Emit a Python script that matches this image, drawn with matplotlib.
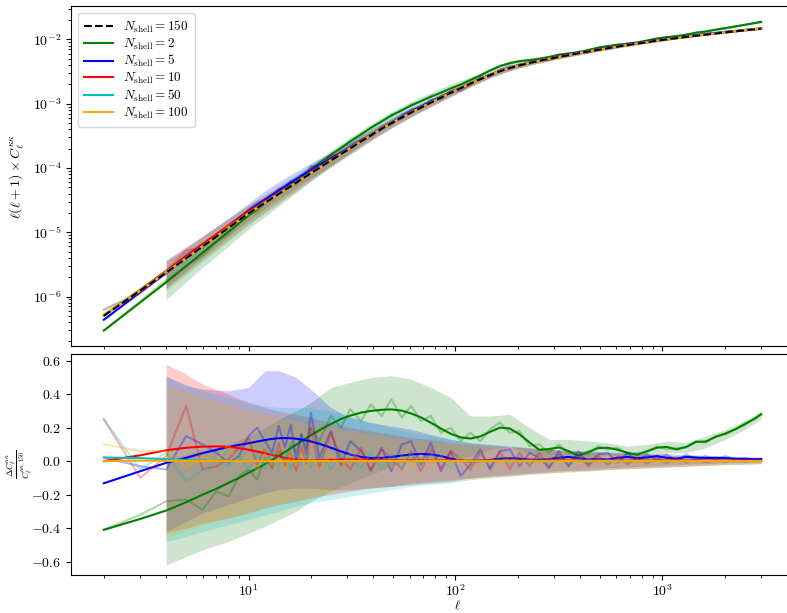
import numpy as np
import matplotlib
matplotlib.use("Agg")
import matplotlib.pyplot as plt

plt.rcParams["font.family"] = "serif"
plt.rcParams["font.serif"] = ["cmr10", "DejaVu Serif"]
plt.rcParams["mathtext.fontset"] = "cm"
plt.rcParams["axes.formatter.use_mathtext"] = True

# multipoles
ell = np.array([2, 3, 4, 5, 6, 7, 8, 9, 10, 11, 12, 13, 14, 15, 16, 17, 18, 19, 20,
                22, 25, 28, 31, 35, 39, 44, 49, 55, 61, 68, 76, 85, 95, 106, 118, 132,
                147, 164, 183, 204, 228, 254, 283, 316, 352, 393, 438, 489, 545, 608,
                678, 756, 843, 940, 1048, 1169, 1303, 1453, 1620, 1807, 2015, 2247,
                2506, 2795, 3000])

# log10 of l(l+1) C_l for N_shell = 150 (reference)
ref_log10 = np.array([-6.300, -5.907, -5.628, -5.404, -5.221, -5.066, -4.932, -4.814, -4.708,
                      -4.622, -4.543, -4.471, -4.404, -4.342, -4.284, -4.229, -4.177, -4.128,
                      -4.082, -3.997, -3.884, -3.784, -3.694, -3.587, -3.493, -3.391, -3.305,
                      -3.217, -3.140, -3.062, -2.985, -2.907, -2.830, -2.760, -2.690, -2.620,
                      -2.556, -2.497, -2.447, -2.405, -2.368, -2.335, -2.304, -2.274, -2.245,
                      -2.217, -2.190, -2.163, -2.138, -2.113, -2.089, -2.066, -2.044, -2.022,
                      -2.001, -1.981, -1.962, -1.944, -1.926, -1.909, -1.892, -1.876, -1.860,
                      -1.845, -1.836])

labels = ["2", "5", "10", "50", "100"]
colors = ["green", "blue", "red", "c", "orange"]

# smoothed relative difference to N_shell = 150
smooth_2 = [-0.410, -0.345, -0.295, -0.245, -0.200, -0.165, -0.130, -0.100, -0.070, -0.043,
            -0.018, 0.008, 0.032, 0.055, 0.077, 0.098, 0.118, 0.137, 0.155, 0.185, 0.222,
            0.252, 0.272, 0.290, 0.300, 0.307, 0.309, 0.302, 0.285, 0.262, 0.230, 0.195,
            0.163, 0.142, 0.135, 0.148, 0.175, 0.200, 0.195, 0.160, 0.112, 0.068, 0.072,
            0.082, 0.060, 0.032, 0.055, 0.078, 0.080, 0.068, 0.050, 0.038, 0.060, 0.080,
            0.085, 0.070, 0.085, 0.115, 0.117, 0.145, 0.165, 0.190, 0.220, 0.255, 0.280]
smooth_5 = [-0.132, -0.060, -0.010, 0.020, 0.048, 0.068, 0.085, 0.097, 0.107, 0.117, 0.126,
            0.133, 0.137, 0.138, 0.137, 0.134, 0.129, 0.124, 0.118, 0.104, 0.080, 0.058,
            0.040, 0.025, 0.019, 0.020, 0.025, 0.033, 0.040, 0.043, 0.040, 0.030, 0.015,
            0.003, -0.002, 0.000, 0.008, 0.015, 0.018, 0.015, 0.010, 0.008, 0.012, 0.020,
            0.025, 0.018, 0.010, 0.012, 0.010, 0.020, 0.025, 0.018, 0.022, 0.030, 0.020,
            0.015, 0.025, 0.022, 0.018, 0.020, 0.018, 0.015, 0.013, 0.012, 0.012]
smooth_10 = [0.000, 0.035, 0.065, 0.080, 0.087, 0.088, 0.086, 0.078, 0.068, 0.058, 0.047,
             0.037, 0.028, 0.020, 0.014, 0.010, 0.007, 0.005, 0.004, 0.005, 0.008, 0.010,
             0.010, 0.009, 0.007, 0.005, 0.004, 0.004, 0.005, 0.004, 0.003, 0.004, 0.005,
             0.004, 0.003, 0.004, 0.005, 0.004, 0.003, 0.004, 0.004, 0.003, 0.004, 0.005,
             0.004, 0.003, 0.003, 0.004, 0.004, 0.003, 0.003, 0.004, 0.003, 0.003, 0.004,
             0.003, 0.003, 0.004, 0.003, 0.003, 0.003, 0.003, 0.003, 0.003, 0.003]
smooth_50 = [0.022, 0.018, 0.012, 0.007, 0.004, 0.002, 0.001, 0.001, 0.000, 0.001, 0.001,
             0.000, 0.001, 0.001, 0.000, 0.001, 0.001, 0.000, 0.001, 0.001, 0.000, 0.001,
             0.001, 0.000, 0.001, 0.001, 0.000, 0.001, 0.001, 0.000, 0.001, 0.001, 0.000,
             0.001, 0.001, 0.000, 0.001, 0.001, 0.000, 0.001, 0.001, 0.000, 0.001, 0.001,
             0.000, 0.001, 0.001, 0.000, 0.001, 0.001, 0.000, 0.001, 0.001, 0.000, 0.001,
             0.001, 0.000, 0.001, 0.001, 0.000, 0.001, 0.001, 0.000, 0.001, 0.001]
smooth_100 = [0.000, 0.003, 0.002, 0.001, 0.000, 0.001, 0.000, -0.001, 0.000, 0.001, 0.000,
              0.000, 0.001, 0.000, -0.001, 0.000, 0.001, 0.000, 0.000, 0.001, 0.000, -0.001,
              0.000, 0.001, 0.000, 0.000, 0.001, 0.000, -0.001, 0.000, 0.001, 0.000, 0.000,
              0.001, 0.000, -0.001, 0.000, 0.001, 0.000, 0.000, 0.001, 0.000, -0.001, 0.000,
              0.001, 0.000, 0.000, 0.001, 0.000, -0.001, 0.000, 0.001, 0.000, 0.000, 0.001,
              0.000, -0.001, 0.000, 0.001, 0.000, 0.000, 0.001, 0.000, 0.000, 0.000]

# raw (per-ell) relative difference
raw_2 = [-0.41, -0.32, -0.24, -0.23, -0.29, -0.18, -0.21, -0.09, -0.05, -0.11, 0.02, -0.04,
         0.06, 0.00, 0.10, 0.05, 0.16, 0.08, 0.20, 0.12, 0.27, 0.20, 0.31, 0.24, 0.34, 0.27,
         0.37, 0.26, 0.33, 0.24, 0.27, 0.17, 0.20, 0.12, 0.17, 0.12, 0.19, 0.23, 0.17, 0.18,
         0.09, 0.10, 0.05, 0.10, 0.05, 0.05, 0.04, 0.09, 0.07, 0.08, 0.04, 0.05, 0.05, 0.09,
         0.07, 0.08, 0.08, 0.12, 0.11, 0.15, 0.16, 0.19, 0.23, 0.25, 0.28]
raw_5 = [0.02, -0.03, -0.05, 0.15, 0.10, 0.05, -0.01, 0.03, 0.15, 0.20, 0.12, 0.05, 0.21,
         0.08, 0.22, 0.00, 0.16, 0.04, 0.29, 0.02, 0.18, -0.03, 0.12, 0.06, -0.05, 0.08,
         -0.06, 0.10, 0.12, -0.02, 0.11, -0.06, 0.06, -0.09, -0.02, 0.07, -0.05, 0.06, 0.07,
         -0.03, 0.05, 0.02, -0.04, 0.06, -0.03, 0.06, -0.02, 0.04, 0.05, -0.01, 0.05, 0.00,
         0.04, 0.01, 0.04, 0.00, 0.04, 0.01, 0.03, 0.01, 0.03, 0.01, 0.02, 0.01, 0.015]
raw_10 = [0.25, -0.10, 0.03, 0.33, -0.05, -0.03, 0.01, 0.08, 0.14, -0.02, 0.07, -0.04, 0.11,
          -0.03, 0.05, -0.06, 0.09, -0.02, 0.20, -0.04, 0.17, 0.02, -0.05, 0.08, -0.06, 0.07,
          0.02, -0.05, 0.06, -0.06, 0.07, -0.04, 0.06, 0.01, -0.05, 0.05, -0.04, 0.06, -0.05,
          0.05, -0.03, 0.05, -0.04, 0.04, -0.03, 0.04, -0.03, 0.03, -0.02, 0.03, -0.02, 0.02,
          -0.015, 0.02, -0.01, 0.015, -0.01, 0.012, -0.008, 0.01, -0.005, 0.008, -0.004,
          0.005, 0.003]
raw_50 = [0.25, -0.05, 0.05, -0.12, -0.05, 0.00, -0.03, 0.04, -0.06, 0.05, -0.04, 0.06,
          -0.03, 0.04, -0.05, 0.06, -0.02, 0.05, -0.04, 0.06, -0.05, 0.04, 0.02, -0.04, 0.05,
          -0.05, 0.04, -0.04, 0.05, -0.03, 0.04, 0.01, -0.04, 0.03, -0.03, 0.03, -0.03, 0.03,
          -0.02, 0.03, -0.02, 0.02, -0.02, 0.02, -0.02, 0.02, -0.015, 0.015, -0.015, 0.012,
          -0.01, 0.01, -0.01, 0.008, -0.008, 0.006, -0.006, 0.005, -0.005, 0.004, -0.004,
          0.003, -0.003, 0.002, 0.0]
raw_100 = [0.10, 0.06, 0.06, -0.04, 0.03, 0.00, 0.10, -0.02, 0.04, -0.06, 0.05, -0.03, 0.02,
           -0.05, 0.04, -0.03, 0.05, -0.04, 0.03, -0.05, 0.04, -0.04, 0.05, 0.01, -0.03, 0.04,
           -0.04, 0.03, -0.04, 0.04, -0.03, 0.03, -0.03, 0.03, -0.01, -0.03, 0.02, -0.02, 0.03,
           -0.02, 0.02, -0.02, 0.02, -0.015, 0.015, -0.015, 0.012, -0.012, 0.01, -0.01, 0.01,
           -0.008, 0.008, -0.006, 0.006, -0.005, 0.005, -0.004, 0.004, -0.003, 0.003, -0.002,
           0.002, -0.001, 0.0]

# scatter bands (start at ell = 4)
band_ell = np.array([4, 5, 6, 8, 10, 12, 14, 17, 20, 25, 31, 39, 49, 61, 76, 95, 118, 147,
                     183, 228, 283, 352, 438, 545, 678, 843, 1048, 1303, 1620, 2015, 2506, 3000])
hi_2 = [0.02, 0.04, 0.06, 0.10, 0.15, 0.20, 0.25, 0.30, 0.35, 0.44, 0.47, 0.50, 0.51, 0.49,
        0.44, 0.38, 0.27, 0.27, 0.28, 0.20, 0.13, 0.13, 0.12, 0.11, 0.09, 0.10, 0.12, 0.11,
        0.15, 0.19, 0.24, 0.30]
lo_2 = [-0.62, -0.57, -0.53, -0.48, -0.43, -0.39, -0.35, -0.30, -0.24, -0.18, -0.13, -0.08,
        -0.03, 0.00, 0.01, 0.02, 0.03, 0.07, 0.09, 0.04, 0.02, 0.00, 0.01, 0.04, 0.02, 0.02,
        0.05, 0.05, 0.08, 0.13, 0.19, 0.25]
hi_5 = [0.51, 0.45, 0.43, 0.42, 0.44, 0.54, 0.54, 0.50, 0.43, 0.32, 0.26, 0.23, 0.21, 0.19,
        0.16, 0.13, 0.11, 0.10, 0.09, 0.08, 0.07, 0.065, 0.06, 0.055, 0.05, 0.045, 0.045,
        0.04, 0.035, 0.03, 0.025, 0.025]
lo_5 = [-0.42, -0.36, -0.31, -0.26, -0.22, -0.19, -0.17, -0.16, -0.16, -0.17, -0.17, -0.16,
        -0.15, -0.14, -0.13, -0.12, -0.10, -0.09, -0.08, -0.07, -0.06, -0.055, -0.05, -0.04,
        -0.035, -0.03, -0.025, -0.02, -0.015, -0.01, -0.005, 0.0]
hi_10 = [0.58, 0.52, 0.46, 0.40, 0.35, 0.32, 0.30, 0.28, 0.26, 0.23, 0.20, 0.18, 0.16, 0.14,
         0.13, 0.11, 0.10, 0.09, 0.085, 0.075, 0.07, 0.06, 0.055, 0.05, 0.045, 0.04, 0.035,
         0.03, 0.025, 0.02, 0.018, 0.015]
lo_10 = [-0.43, -0.40, -0.37, -0.34, -0.31, -0.28, -0.26, -0.24, -0.22, -0.20, -0.18, -0.16,
         -0.15, -0.13, -0.12, -0.11, -0.10, -0.09, -0.085, -0.075, -0.07, -0.06, -0.055,
         -0.05, -0.045, -0.04, -0.035, -0.03, -0.025, -0.02, -0.018, -0.015]
hi_50 = [0.50, 0.46, 0.42, 0.38, 0.35, 0.33, 0.32, 0.32, 0.32, 0.30, 0.27, 0.23, 0.20, 0.17,
         0.15, 0.13, 0.11, 0.10, 0.09, 0.08, 0.07, 0.06, 0.055, 0.05, 0.045, 0.04, 0.035,
         0.03, 0.025, 0.02, 0.018, 0.015]
lo_50 = [-0.48, -0.45, -0.42, -0.38, -0.35, -0.32, -0.30, -0.27, -0.25, -0.23, -0.21, -0.19,
         -0.17, -0.15, -0.14, -0.13, -0.11, -0.10, -0.09, -0.08, -0.07, -0.065, -0.06, -0.05,
         -0.045, -0.04, -0.035, -0.03, -0.025, -0.02, -0.018, -0.015]
hi_100 = [0.45, 0.42, 0.38, 0.34, 0.30, 0.28, 0.26, 0.24, 0.22, 0.20, 0.18, 0.16, 0.14, 0.13,
          0.12, 0.11, 0.10, 0.09, 0.08, 0.075, 0.07, 0.06, 0.055, 0.05, 0.045, 0.04, 0.035,
          0.03, 0.025, 0.02, 0.018, 0.015]
lo_100 = [-0.45, -0.42, -0.38, -0.34, -0.30, -0.27, -0.25, -0.23, -0.21, -0.19, -0.17, -0.16,
          -0.15, -0.14, -0.13, -0.12, -0.11, -0.10, -0.09, -0.08, -0.07, -0.065, -0.06, -0.05,
          -0.045, -0.04, -0.035, -0.03, -0.025, -0.02, -0.018, -0.015]

smooth = [smooth_2, smooth_5, smooth_10, smooth_50, smooth_100]
raw = [raw_2, raw_5, raw_10, raw_50, raw_100]
his = [hi_2, hi_5, hi_10, hi_50, hi_100]
los = [lo_2, lo_5, lo_10, lo_50, lo_100]

ref = 10.0 ** ref_log10
ref_band = ref[np.isin(ell, band_ell)]

fig = plt.figure(figsize=(7.87, 6.13), dpi=100)
W, H = 787.0, 613.0
ax1 = fig.add_axes([71 / W, 1 - 346 / H, 723 / W, 340 / H])
ax2 = fig.add_axes([71 / W, 1 - 575 / H, 723 / W, 221 / H], sharex=ax1)

handles = []
for lab, col, sm, rw, hi, lo in zip(labels, colors, smooth, raw, his, los):
    sm = np.array(sm)
    rw = np.array(rw)
    hi = np.array(hi)
    lo = np.array(lo)
    # top panel
    ax1.fill_between(band_ell, ref_band * (1 + lo), ref_band * (1 + hi), color=col, alpha=0.2, lw=0)
    ax1.plot(ell, ref * (1 + rw), color=col, alpha=0.3, lw=1.5)
    h, = ax1.plot(ell, ref * (1 + sm), color=col, lw=1.5, label=r"$N_{\rm shell}=%s$" % lab)
    handles.append(h)
    # bottom panel
    ax2.fill_between(band_ell, lo, hi, color=col, alpha=0.2, lw=0)
    ax2.plot(ell, rw, color=col, alpha=0.3, lw=1.5)
    ax2.plot(ell, sm, color=col, lw=1.5)

h0, = ax1.plot(ell, ref, "k--", lw=1.5, zorder=5, label=r"$N_{\rm shell}=150$")
handles = [h0] + handles

ax1.set_xscale("log")
ax1.set_yscale("log")
ax1.set_ylabel(r"$\ell(\ell+1)\times C_\ell^{\kappa\kappa}$")
ax1.legend(handles=handles, loc="upper left", fontsize=9.5, labelspacing=0.12,
           handlelength=2.2, borderpad=0.45)
plt.setp(ax1.get_xticklabels(), visible=False)

ax2.tick_params(axis="x", which="major", pad=2.5)
ax2.set_xlabel(r"$\ell$", fontsize=9)
ax2.xaxis.label.set_va("bottom")
ax2.xaxis.set_label_coords((457 - 71) / 723, -(612 - 575) / 221)
ax2.set_ylabel(r"$\frac{\Delta C_\ell^{\kappa\kappa}}{C_\ell^{\kappa\kappa,150}}$", fontsize=9)
ax2.yaxis.set_label_coords(-0.05, 0.5)
ax2.set_yticks([-0.6, -0.4, -0.2, 0.0, 0.2, 0.4, 0.6])

fig.savefig("out.png", dpi=100)
